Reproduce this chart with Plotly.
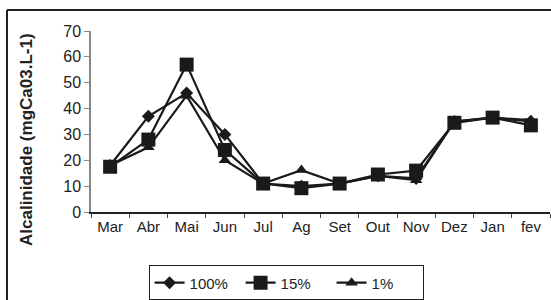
import plotly.graph_objects as go

months = ["Mar", "Abr", "Mai", "Jun", "Jul", "Ag", "Set", "Out", "Nov", "Dez", "Jan", "fev"]
s100 = [18, 37, 46, 30, 11, 10, 11, 14, 13, 35, 36.5, 35]
s15 = [17.5, 28, 57, 24, 11, 9.2, 11, 14.5, 16, 34.5, 36.5, 33.5]
s1 = [18, 25, 45, 20, 11, 16.2, 11, 14, 12.3, 35, 36.5, 35.5]
yticks = [0, 10, 20, 30, 40, 50, 60, 70]

C = "#1a1a1a"
FONT = "Liberation Sans, Arial"
fig = go.Figure()
for name, vals, sym, sz in [("100%", s100, "diamond", 10), ("15%", s15, "square", 14), ("1%", s1, "triangle-up", 11)]:
    fig.add_trace(go.Scatter(x=months, y=vals, name=name, mode="lines+markers",
                             line=dict(color=C, width=2.2),
                             marker=dict(symbol=sym, size=sz, color=C)))

# plot area: x 91..550, y 31..212 (px)
fig.update_layout(
    width=551, height=300,
    margin=dict(l=91, r=1, t=31, b=88, autoexpand=False),
    paper_bgcolor="white", plot_bgcolor="white",
    font=dict(family=FONT, size=14, color="#222"),
    showlegend=True,
    legend=dict(orientation="h", x=0.425, xanchor="center", y=-0.295, yanchor="top",
                bordercolor="#222", borderwidth=1, font=dict(size=15),
                tracegroupgap=0, bgcolor="white", itemsizing="trace",
                entrywidth=46, entrywidthmode="pixels"),
    xaxis=dict(type="category", range=[-0.5, 11.5], showline=True, linecolor="#222",
               linewidth=1.5, ticks="outside", tickson="boundaries", ticklen=4,
               tickcolor="#444", showgrid=False, zeroline=False,
               tickfont=dict(size=15)),
    yaxis=dict(range=[0, 70], tickvals=yticks, showline=True, linecolor="#888",
               linewidth=1.5, ticks="outside", ticklen=5, tickcolor="#888",
               showgrid=False, zeroline=False, tickfont=dict(size=16)),
    annotations=[dict(text="<b>Alcalinidade (mgCa03.L-1)</b>", textangle=-90,
                      xref="paper", yref="paper", x=(26 - 91) / 459, y=(212 - 140) / 181,
                      xanchor="center", yanchor="middle", showarrow=False,
                      font=dict(size=17, family=FONT, color="#222"))],
    shapes=[
        dict(type="line", xref="paper", yref="paper", x0=-0.183, x1=1.01, y0=1.116, y1=1.116,
             line=dict(color="#222", width=2)),
        dict(type="line", xref="paper", yref="paper", x0=-0.183, x1=-0.183, y0=1.116, y1=-0.6,
             line=dict(color="#222", width=2)),
    ],
)
fig.write_html("out.html", config={"displayModeBar": False},
               post_script="document.body.style.margin='0px';")
